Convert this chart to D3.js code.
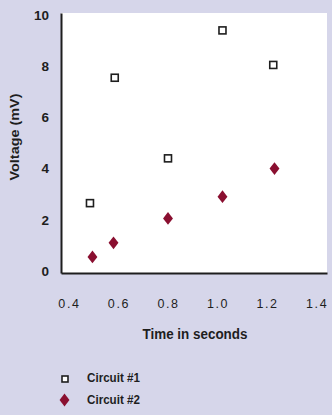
<!DOCTYPE html>
<html lang="en">
<head>
  <meta charset="UTF-8" />
  <title>Voltage vs time</title>
  <script src="https://d3js.org/d3.v7.min.js"></script>
  <style>
    body { margin: 0; background: #d6d6ea; }
    svg { display: block; }
    text { font-family: 'Liberation Sans', Arial, sans-serif; fill: #1e1e1e; }
    .yaxis .tick text { font-size: 13.5px; font-weight: bold; }
    .xaxis .tick text { letter-spacing: 1.6px; font-size: 12.5px; }
  </style>
</head>
<body>
  <svg id="chart" width="332" height="415"></svg>
  <script>
    // values
    const circuit1Time = [0.485, 0.585, 0.8, 1.02, 1.225];
    const circuit1Volt = [2.65, 7.55, 4.4, 9.4, 8.05];
    const circuit2Time = [0.495, 0.58, 0.8, 1.02, 1.23];
    const circuit2Volt = [0.55, 1.1, 2.05, 2.9, 4.0];
    const xTicks = [0.4, 0.6, 0.8, 1.0, 1.2, 1.4];
    const yTicks = [0, 2, 4, 6, 8, 10];
    const legendLabels = ["Circuit #1", "Circuit #2"];

    const svg = d3.select("#chart");
    const plotL = 61, plotR = 327, plotT = 13, plotB = 273;

    const x = d3.scaleLinear().domain([0.368, 1.442]).range([plotL, plotR]);
    const y = d3.scaleLinear().domain([-0.08, 10.08]).range([plotB, plotT]);

    // plot background
    svg.append("rect")
      .attr("x", plotL).attr("y", plotT)
      .attr("width", plotR - plotL).attr("height", plotB - plotT)
      .attr("fill", "#ffffff");

    // axes
    const yAxis = svg.append("g")
      .attr("class", "yaxis")
      .attr("transform", `translate(${plotL},0)`)
      .call(d3.axisLeft(y).tickValues(yTicks).tickSize(0).tickPadding(12));
    yAxis.select(".domain").attr("stroke", "#1e1e1e").attr("stroke-width", 2);

    const xAxis = svg.append("g")
      .attr("class", "xaxis")
      .attr("transform", `translate(0,${plotB})`)
      .call(d3.axisBottom(x).tickValues(xTicks).tickFormat(d3.format(".1f")).tickSize(0).tickPadding(26));
    xAxis.select(".domain").attr("stroke", "#1e1e1e").attr("stroke-width", 2);

    // axis titles (bold face squeezed to the original condensed widths)
    svg.append("text")
      .attr("transform", `translate(19,137) rotate(-90)`)
      .attr("text-anchor", "middle")
      .attr("font-size", 13.5)
      .attr("font-weight", "bold")
      .attr("textLength", 87)
      .attr("lengthAdjust", "spacingAndGlyphs")
      .text("Voltage (mV)");

    svg.append("text")
      .attr("x", 195).attr("y", 339)
      .attr("text-anchor", "middle")
      .attr("font-size", 14.5)
      .attr("font-weight", "bold")
      .attr("textLength", 105)
      .attr("lengthAdjust", "spacingAndGlyphs")
      .text("Time in seconds");

    // circuit #1: open squares
    const sq = 7;
    svg.selectAll(".c1")
      .data(circuit1Time.map((t, i) => ({ t, v: circuit1Volt[i] })))
      .enter().append("rect")
      .attr("class", "c1")
      .attr("x", d => x(d.t) - sq / 2)
      .attr("y", d => y(d.v) - sq / 2)
      .attr("width", sq).attr("height", sq)
      .attr("fill", "#fff")
      .attr("stroke", "#1e1e1e")
      .attr("stroke-width", 1.6);

    // circuit #2: filled diamonds, a bit squatter than d3's own
    const fatDiamond = {
      draw(ctx, size) {
        const w = Math.sqrt(size) * 0.45, h = Math.sqrt(size) * 0.58;
        ctx.moveTo(0, -h); ctx.lineTo(w, 0); ctx.lineTo(0, h); ctx.lineTo(-w, 0); ctx.closePath();
      }
    };
    const diamond = d3.symbol().type(fatDiamond).size(121);
    svg.selectAll(".c2")
      .data(circuit2Time.map((t, i) => ({ t, v: circuit2Volt[i] })))
      .enter().append("path")
      .attr("class", "c2")
      .attr("d", diamond)
      .attr("transform", d => `translate(${x(d.t)},${y(d.v)})`)
      .attr("fill", "#8a0f30");

    // legend
    const lg = svg.append("g");
    lg.append("rect")
      .attr("x", 62).attr("y", 376)
      .attr("width", 6).attr("height", 6)
      .attr("fill", "#fff").attr("stroke", "#1e1e1e").attr("stroke-width", 1.6);
    lg.append("path")
      .attr("d", diamond)
      .attr("transform", "translate(64.5,400)")
      .attr("fill", "#8a0f30");
    lg.selectAll("text")
      .data(legendLabels)
      .enter().append("text")
      .attr("x", 87)
      .attr("y", (d, i) => 382 + i * 22)
      .attr("font-size", 13.5)
      .attr("font-weight", "bold")
      .attr("textLength", 53)
      .attr("lengthAdjust", "spacingAndGlyphs")
      .text(d => d);
  </script>
</body>
</html>
